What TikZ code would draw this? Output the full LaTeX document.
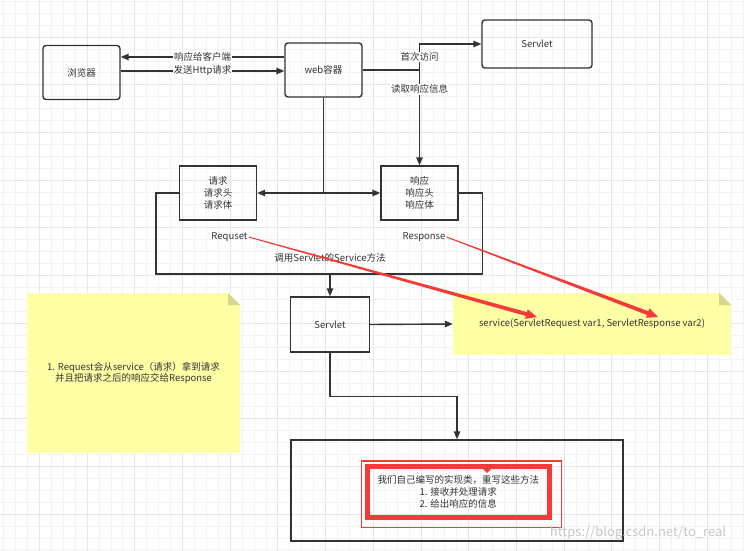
\documentclass[tikz,border=0pt]{standalone}
\usepackage{fontspec}
\setmainfont{Noto Sans CJK SC}
\usepackage{tikz}
\usetikzlibrary{arrows.meta, positioning, calc}
\definecolor{oscuro}{HTML}{333333}
\definecolor{rojo}{HTML}{F53A3A}
\definecolor{amarillo}{HTML}{FFFFA6}
\definecolor{doblez}{HTML}{D6D68C}
\definecolor{rejillaclara}{HTML}{F3F3F3}
\definecolor{rejillaoscura}{HTML}{E6E6E6}
\newcommand{\letra}{\fontsize{9.5}{11.8}\selectfont}
\newcommand{\flecharoja}[2]{%
	\coordinate (base) at ($(#2)!11pt!(#1)$);
	\fill[rojo] ($(#1)!0.5pt!90:(#2)$) -- ($(base)!2pt!-90:(#1)$) -- ($(base)!5pt!-90:(#1)$) -- (#2) -- ($(base)!5pt!90:(#1)$) -- ($(base)!2pt!90:(#1)$) -- ($(#1)!0.5pt!-90:(#2)$) -- cycle;}
\tikzstyle{fina} = [draw=rejillaclara, line width=0.6pt]
\tikzstyle{gruesa} = [draw=rejillaoscura, line width=0.8pt]
\tikzstyle{caja} = [draw=oscuro, line width=1.4pt, rectangle, minimum width=77pt, minimum height=54pt, text=oscuro, align=center, font=\letra]
\tikzstyle{cajaredonda} = [caja, rounded corners=3pt]
\tikzstyle{cajaroja} = [draw=rojo, line width=5pt, rectangle, minimum width=181.5pt, minimum height=51pt, text=oscuro, align=center, font=\letra]
\tikzstyle{nota} = [rectangle, fill=amarillo, text=oscuro, align=center, font=\letra, path picture={
	\fill[white] ([xshift=-12pt]path picture bounding box.north east) -- (path picture bounding box.north east) -- ([yshift=-12pt]path picture bounding box.north east) -- cycle;
	\fill[doblez] ([xshift=-12pt]path picture bounding box.north east) -- ([xshift=-12pt,yshift=-12pt]path picture bounding box.north east) -- ([yshift=-12pt]path picture bounding box.north east) -- cycle;}]
\tikzstyle{flecha} = [draw=oscuro, line width=1.4pt, -{Triangle[length=8pt,width=6.5pt]}]
\tikzstyle{linea} = [draw=oscuro, line width=1.4pt]
\tikzstyle{etiqueta} = [fill=white, text=oscuro, inner sep=1pt, font=\letra]
\tikzstyle{rotulo} = [text=oscuro, inner sep=1pt, font=\letra]
\tikzstyle{marca} = [text=black!22, font=\fontsize{13}{15}\selectfont]

\begin{document}
\begin{tikzpicture}[x=1pt, y=-1pt]
	\useasboundingbox (0,0) rectangle (744,551);
	\fill[white] (0,0) rectangle (744,551);
	\foreach \i in {0,...,62} \draw[fina] ({3.5+11.925*\i},0) -- ++(0,551);
	\foreach \i in {0,...,46} \draw[fina] (0,{1.2+11.925*\i}) -- ++(744,0);
	\foreach \i in {0,...,15} \draw[gruesa] ({39.3+47.7*\i},0) -- ++(0,551);
	\foreach \i in {0,...,11} \draw[gruesa] (0,{37+47.7*\i}) -- ++(744,0);

	\node[cajaredonda] (navegador) at (81.5,72.5) {浏览器};
	\node[cajaredonda] (web) at (323.5,70) {web容器};
	\node[cajaredonda, minimum width=110pt, minimum height=48pt] (servlet) at (537,44) {Servlet};
	\node[caja] (peticion) at (218,193) {请求\\请求头\\请求体};
	\node[caja] (respuesta) at (419.5,193) {响应\\响应头\\响应体};
	\node[caja, minimum width=79pt, minimum height=55pt] (servletb) at (330,324.5) {Servlet};
	\node[nota, minimum width=278pt, minimum height=62pt] (servicio) at (592,324) {service(ServletRequest var1, ServletResponse var2)};
	\node[nota, minimum width=213pt, minimum height=160pt] (aviso) at (133.5,373) {1. Request会从service（请求）拿到请求\\并且把请求之后的响应交给Response};
	\node[caja, minimum width=332pt, minimum height=101pt] (clase) at (457,490.5) {};
	\draw[rojo, line width=1.2pt] (361.7,461) rectangle (561.7,527.7);
	\node[cajaroja] (impl) at (458.25,492) {我们自己编写的实现类，重写这些方法\\1. 接收并处理请求\\2. 给出响应的信息};
	\fill[rojo] (483,469) -- (491,469) -- (487,473) -- cycle;

	\draw[flecha] ([yshift=13pt]web.west) coordinate (r) -- (r -| navegador.east) node[etiqueta, midway] {响应给客户端};
	\draw[flecha] ([yshift=1.5pt]navegador.east) coordinate (e) -- (e -| web.west) node[etiqueta, midway] {发送Http请求};
	\draw[flecha] (web.east) -- (web.east -| respuesta.north) |- (servlet.west) node[etiqueta, pos=0.25] {首次访问};
	\draw[flecha] (web.east -| respuesta.north) -- (respuesta.north) node[etiqueta, pos=0.2] {读取响应信息};
	\draw[linea] (web.south) -- (web.south |- peticion.east) coordinate (cruce);
	\draw[flecha] (cruce) -- (peticion.east);
	\draw[flecha] (cruce) -- (respuesta.west);
	\draw[linea] (peticion.west) -- ++(-23,0) |- (servletb.north |- 0,274) coordinate (llamada) -| ($(respuesta.east)+(24,0)$) -- (respuesta.east);
	\node[rotulo] (metodo) at (330,258) {调用Servlet的Service方法};
	\draw[flecha] (llamada) -- (servletb.north);
	\draw[flecha] (servletb.east) -- (servicio.west);
	\draw[flecha] (servletb.south) -- ++(0,44) -| (clase.north);

	\node[rotulo] (req) at (229.5,237) {Requset};
	\node[rotulo] (resp) at (424,237) {Response};
	\flecharoja{req.east}{537,317}
	\flecharoja{resp.east}{658,317}
	\node[marca] (url) at (638,533) {https://blog.csdn.net/to\_real};
\end{tikzpicture}
\end{document}
